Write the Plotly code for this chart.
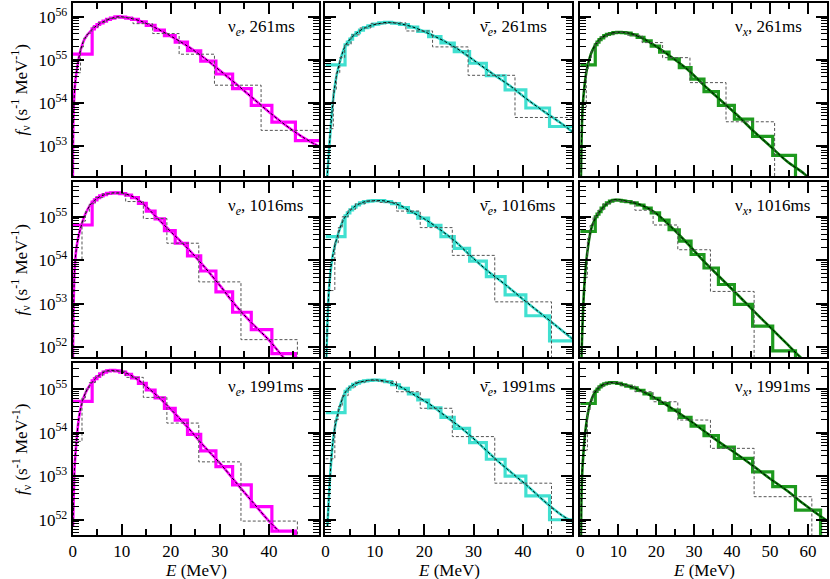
import plotly.graph_objects as go

# Energy bin edges (MeV): fine grid shared by all panels, coarse grids per epoch
FINE_EDGES = [0, 3.97, 4.43, 4.95, 5.5, 6.2, 6.9, 7.7, 8.6, 9.6, 10.8, 12.0, 13.4, 15.0,
              16.8, 18.7, 20.9, 23.4, 26.1, 29.2, 32.6, 36.4, 40.6, 45.4, 50.7, 56.7, 63.3, 70.7]
COARSE_EDGES_261 = [0, 1.6, 2.2, 2.9, 3.9, 5.2, 6.9, 9.2, 12.3, 16.3, 21.7, 28.9, 38.4, 51.2, 68]
COARSE_EDGES_LATE = [0, 1.9, 2.6, 3.4, 4.6, 6.1, 8.1, 10.8, 14.4, 19.2, 25.7, 34.3, 45.8, 61.0, 81]

# log10 of f_nu (s^-1 MeV^-1); None = empty bin
# --- nu_e, 261 ms
CURVE_E_NUE_261 = [0.02, 0.07, 0.2, 0.5, 0.95, 1.6, 2.5, 3.85, 5.5, 7.6, 9.3, 11, 13.6, 16.4,
                   19.7, 23.1, 26.5, 29.9, 33.2, 36.6, 40, 43.4, 46.8, 50]
CURVE_LOGF_NUE_261 = [51.9, 52.98, 53.83, 54.45, 54.84, 55.22, 55.5, 55.69, 55.84, 55.95, 56.0, 55.98,
                      55.91, 55.77, 55.57, 55.34, 55.07, 54.76, 54.45, 54.12, 53.79, 53.48, 53.21, 53.0]
FINE_NUE_261 = [55.13, 55.72, 55.77, 55.82, 55.86, 55.9, 55.94, 55.97, 56.0, 55.99, 55.97, 55.94, 55.88,
                55.8, 55.69, 55.56, 55.41, 55.21, 54.97, 54.67, 54.33, 53.94, 53.55, 53.12, 52.75, 52.35, 51.95]
COARSE_NUE_261 = [54.7, 55.3, 55.5, 55.62, 55.76, 55.87, 55.96, 55.98, 55.84, 55.61, 55.13, 54.41, 53.36, 52.5]

# --- anti nu_e, 261 ms
CURVE_E_ANUE_261 = [0.15, 0.4, 1.08, 1.55, 2.2, 3.1, 4.1, 5.8, 8.1, 10.8, 12.8, 14.85, 17.5, 20.9,
                    24.3, 27.6, 31, 34.3, 37.7, 41.1, 44.4, 47.8, 50]
CURVE_LOGF_ANUE_261 = [51.9, 52.36, 53.44, 54.06, 54.6, 55.03, 55.34, 55.57, 55.75, 55.84, 55.87, 55.84,
                       55.77, 55.61, 55.42, 55.19, 54.91, 54.64, 54.37, 54.06, 53.79, 53.52, 53.33]
FINE_ANUE_261 = [54.88, 55.35, 55.41, 55.48, 55.57, 55.63, 55.69, 55.75, 55.79, 55.83, 55.86, 55.87, 55.85,
                 55.82, 55.76, 55.66, 55.54, 55.39, 55.19, 54.92, 54.63, 54.3, 53.88, 53.45, 53.0, 52.5, 52.0]
COARSE_ANUE_261 = [53.4, 54.3, 54.7, 55.05, 55.35, 55.58, 55.74, 55.84, 55.86, 55.67, 55.3, 54.64, 53.66, 52.8]

# --- nu_x, 261 ms
CURVE_E_NUX_261 = [0.1, 0.2, 0.6, 1.2, 1.9, 3.2, 5, 7.2, 10.3, 13.3, 16.4, 19.5, 23.9, 28.2, 32.6, 37,
                   41.4, 45.8, 50.2, 54.6, 58.9, 61.5]
CURVE_LOGF_NUX_261 = [51.8, 52.36, 53.83, 54.45, 54.84, 55.22, 55.46, 55.59, 55.64, 55.61, 55.5, 55.34,
                      55.07, 54.78, 54.41, 54.06, 53.71, 53.33, 52.98, 52.63, 52.36, 52.15]
FINE_NUX_261 = [54.88, 55.35, 55.41, 55.47, 55.51, 55.56, 55.59, 55.61, 55.63, 55.64, 55.63, 55.62, 55.58,
                55.52, 55.44, 55.32, 55.18, 55.02, 54.82, 54.55, 54.26, 53.94, 53.62, 53.22, 52.78, None, None]
COARSE_NUX_261 = [53.9, 54.8, 55.0, 55.2, 55.4, 55.53, 55.6, 55.64, 55.57, 55.4, 55.05, 54.47, 53.56, None]

# --- nu_e, 1016 ms
CURVE_E_NUE_1016 = [0.03, 0.07, 0.2, 0.4, 0.8, 1.5, 2.5, 3.85, 5.5, 7.6, 8.9, 10.9, 13, 15, 17, 19.7,
                    23.1, 26.5, 29.9, 33.2, 36.6, 40, 42, 43.4]
CURVE_LOGF_NUE_1016 = [51.3, 51.89, 53.0, 53.77, 54.31, 54.69, 55.04, 55.31, 55.46, 55.54, 55.55, 55.52,
                       55.42, 55.23, 55.0, 54.69, 54.31, 53.89, 53.43, 52.96, 52.54, 52.16, 51.89, 51.7]
FINE_NUE_1016 = [54.81, 55.34, 55.39, 55.44, 55.48, 55.51, 55.54, 55.55, 55.55, 55.53, 55.5, 55.44, 55.31,
                 55.13, 54.95, 54.68, 54.39, 54.1, 53.75, 53.27, 52.8, 52.4, 51.85, None, None, None, None]
COARSE_NUE_1016 = [54.0, 54.9, 55.12, 55.3, 55.44, 55.53, 55.54, 55.35, 54.96, 54.39, 53.5, 52.17, None, None]

# --- anti nu_e, 1016 ms
CURVE_E_ANUE_1016 = [0.1, 0.2, 0.74, 1.4, 2.4, 3.8, 5.4, 7.5, 9.8, 12.2, 14.9, 17.5, 19.9, 22.9, 26.3,
                     29.6, 33, 36.4, 39.7, 43.1, 46.4, 50]
CURVE_LOGF_ANUE_1016 = [51.2, 51.83, 53.36, 54.05, 54.54, 54.96, 55.19, 55.33, 55.37, 55.36, 55.27, 55.11,
                        54.96, 54.73, 54.43, 54.08, 53.74, 53.44, 53.13, 52.82, 52.52, 52.19]
FINE_ANUE_1016 = [54.54, 55.02, 55.09, 55.16, 55.22, 55.27, 55.32, 55.35, 55.36, 55.37, 55.37, 55.35, 55.3,
                  55.21, 55.1, 54.97, 54.8, 54.54, 54.27, 53.98, 53.62, 53.2, 52.72, 52.14, 51.6, 51.0, 50.4]
COARSE_ANUE_1016 = [53.3, 54.4, 54.75, 55.0, 55.17, 55.3, 55.36, 55.33, 55.13, 54.75, 54.11, 53.04, None, None]

# --- nu_x, 1016 ms
CURVE_E_NUX_1016 = [0.15, 0.35, 1.05, 1.9, 3.2, 5.4, 8.5, 12.5, 16, 19.5, 23.9, 28.2, 32.6, 37, 41.4,
                    45.8, 50.2, 54.6, 57.2, 60]
CURVE_LOGF_NUX_1016 = [51.0, 51.83, 53.36, 54.2, 54.81, 55.15, 55.38, 55.35, 55.27, 55.11, 54.77, 54.39,
                       53.97, 53.59, 53.21, 52.82, 52.44, 52.06, 51.83, 51.6]
FINE_NUX_1016 = [54.66, 55.0, 55.06, 55.12, 55.2, 55.27, 55.32, 55.36, 55.38, 55.38, 55.36, 55.35, 55.32,
                 55.27, 55.2, 55.09, 54.92, 54.7, 54.44, 54.13, 53.82, 53.44, 52.98, 52.48, 51.91, None, None]
COARSE_NUX_1016 = [53.6, 54.5, 54.8, 55.0, 55.15, 55.3, 55.37, 55.35, 55.15, 54.81, 54.24, 53.28, None, None]

# --- nu_e, 1991 ms
CURVE_E_NUE_1991 = [0.07, 0.2, 0.4, 0.8, 1.3, 2.0, 3.0, 4.3, 6.2, 7.6, 9.05, 11.1, 13.1, 15.1, 17.2,
                    19.9, 23.3, 26.6, 30, 33.4, 36.8, 40, 42]
CURVE_LOGF_NUE_1991 = [51.86, 52.46, 53.22, 53.83, 54.36, 54.73, 55.0, 55.2, 55.38, 55.43, 55.42, 55.36,
                       55.23, 55.05, 54.85, 54.55, 54.14, 53.71, 53.3, 52.84, 52.39, 51.97, 51.74]
FINE_NUE_1991 = [54.72, 55.19, 55.24, 55.29, 55.35, 55.39, 55.42, 55.43, 55.42, 55.39, 55.34, 55.26, 55.13,
                 54.98, 54.8, 54.56, 54.29, 53.96, 53.58, 53.22, 52.8, 52.3, 51.74, None, None, None, None]
COARSE_NUE_1991 = [53.8, 54.8, 55.0, 55.15, 55.3, 55.41, 55.41, 55.27, 54.81, 54.22, 53.33, 51.97, None, None]

# --- anti nu_e, 1991 ms
CURVE_E_ANUE_1991 = [0.4, 0.74, 1.08, 1.55, 2.2, 3.1, 4.1, 5.8, 8.1, 10.1, 12.2, 14.9, 17.5, 20.9, 24.3,
                     27.6, 31, 34.3, 37.7, 41.1, 44.4, 47.8, 50]
CURVE_LOGF_ANUE_1991 = [51.85, 52.61, 53.22, 53.83, 54.29, 54.67, 54.94, 55.11, 55.19, 55.21, 55.18, 55.07,
                        54.9, 54.67, 54.38, 54.1, 53.76, 53.41, 53.08, 52.76, 52.42, 52.11, 51.96]
FINE_ANUE_1991 = [54.46, 54.95, 55.0, 55.05, 55.11, 55.14, 55.17, 55.19, 55.2, 55.21, 55.2, 55.17, 55.1,
                  55.02, 54.89, 54.75, 54.57, 54.35, 54.1, 53.77, 53.39, 53.0, 52.55, 52.0, 51.6, 51.1, 50.6]
COARSE_ANUE_1991 = [53.4, 54.3, 54.6, 54.85, 55.05, 55.16, 55.2, 55.17, 54.94, 54.56, 53.91, 52.84, None, None]

# --- nu_x, 1991 ms
CURVE_E_NUX_1991 = [0.2, 0.44, 0.9, 1.5, 2.4, 3.7, 5.4, 8.1, 10.7, 14.2, 18.6, 23.9, 28.2, 32.6, 37,
                    41.4, 45.8, 50.2, 54.6, 58.9, 63.3, 65]
CURVE_LOGF_NUX_1991 = [51.61, 52.91, 53.6, 54.14, 54.6, 54.9, 55.07, 55.15, 55.12, 55.03, 54.85, 54.57,
                       54.32, 54.04, 53.76, 53.5, 53.22, 52.93, 52.66, 52.36, 52.08, 51.98]
FINE_NUX_1991 = [54.67, 54.95, 55.0, 55.05, 55.09, 55.12, 55.14, 55.15, 55.15, 55.13, 55.1, 55.07, 55.03,
                 54.97, 54.89, 54.79, 54.67, 54.52, 54.35, 54.15, 53.93, 53.67, 53.41, 53.1, 52.76, 52.22, None]
COARSE_NUX_1991 = [53.6, 54.5, 54.75, 54.95, 55.05, 55.13, 55.15, 55.08, 54.94, 54.71, 54.29, 53.64, 52.53, None]

NU_E = "ν<sub><i>e</i></sub>"
NU_E_BAR = "ν\u0304<sub><i>e</i></sub>"
NU_X = "ν<sub><i>x</i></sub>"

PANELS = [
    (CURVE_E_NUE_261, CURVE_LOGF_NUE_261, FINE_NUE_261, COARSE_EDGES_261, COARSE_NUE_261, NU_E, "261ms"),
    (CURVE_E_ANUE_261, CURVE_LOGF_ANUE_261, FINE_ANUE_261, COARSE_EDGES_261, COARSE_ANUE_261, NU_E_BAR, "261ms"),
    (CURVE_E_NUX_261, CURVE_LOGF_NUX_261, FINE_NUX_261, COARSE_EDGES_261, COARSE_NUX_261, NU_X, "261ms"),
    (CURVE_E_NUE_1016, CURVE_LOGF_NUE_1016, FINE_NUE_1016, COARSE_EDGES_LATE, COARSE_NUE_1016, NU_E, "1016ms"),
    (CURVE_E_ANUE_1016, CURVE_LOGF_ANUE_1016, FINE_ANUE_1016, COARSE_EDGES_LATE, COARSE_ANUE_1016, NU_E_BAR, "1016ms"),
    (CURVE_E_NUX_1016, CURVE_LOGF_NUX_1016, FINE_NUX_1016, COARSE_EDGES_LATE, COARSE_NUX_1016, NU_X, "1016ms"),
    (CURVE_E_NUE_1991, CURVE_LOGF_NUE_1991, FINE_NUE_1991, COARSE_EDGES_LATE, COARSE_NUE_1991, NU_E, "1991ms"),
    (CURVE_E_ANUE_1991, CURVE_LOGF_ANUE_1991, FINE_ANUE_1991, COARSE_EDGES_LATE, COARSE_ANUE_1991, NU_E_BAR, "1991ms"),
    (CURVE_E_NUX_1991, CURVE_LOGF_NUX_1991, FINE_NUX_1991, COARSE_EDGES_LATE, COARSE_NUX_1991, NU_X, "1991ms"),
]

X_MAX = [50.3, 50.0, 65.0]
X_TICKS = [[0, 10, 20, 30, 40], [0, 10, 20, 30, 40], [0, 10, 20, 30, 40, 50, 60]]
X_MINOR = [[5, 15, 25, 35, 45], [5, 15, 25, 35, 45], [5, 15, 25, 35, 45, 55]]
Y_RANGES = [(52.3, 56.32), (51.77, 55.8), (51.65, 55.6)]
Y_DECADES = [[53, 54, 55, 56], [52, 53, 54, 55], [52, 53, 54, 55]]

HIST_COLORS = ["#ff00ff", "#40e0d0", "#1e9a1e"]
CURVE_COLORS = ["#ff00ff", "#30d8c8", "#0a7a0a"]

W, H = 830, 579
COL_PX = [(69, 317), (323, 571), (579, 827)]
ROW_PX = [(3, 176), (182, 357), (363, 535)]
FONT = "Liberation Serif"


def lin(vals):
    """log10 -> linear; empty bins fall far below the axis."""
    return [10.0 ** v if v is not None else 1e40 for v in vals]


def step_y(vals):
    y = lin(vals)
    return y + [y[-1]]


fig = go.Figure()
layout = dict(
    width=W, height=H,
    margin=dict(l=0, r=0, t=0, b=0),
    paper_bgcolor="white", plot_bgcolor="white",
    showlegend=False,
    font=dict(family=FONT, size=17, color="black"),
)
annotations = []

for k, (ce, cl, fine, cedges, coarse, nu, tlabel) in enumerate(PANELS):
    r, c = divmod(k, 3)
    xname = "x" if k == 0 else f"x{k + 1}"
    yname = "y" if k == 0 else f"y{k + 1}"
    common = dict(xaxis=xname, yaxis=yname, hoverinfo="skip", showlegend=False)

    fig.add_trace(go.Scatter(x=FINE_EDGES, y=step_y(fine), mode="lines",
                             line=dict(shape="hv", color=HIST_COLORS[c], width=3.2), **common))
    fig.add_trace(go.Scatter(x=ce, y=lin(cl), mode="lines",
                             line=dict(shape="spline", smoothing=1.0, color=CURVE_COLORS[c], width=2.6),
                             **common))
    fig.add_trace(go.Scatter(x=ce, y=lin(cl), mode="lines",
                             line=dict(shape="spline", smoothing=1.0, color="black", width=1, dash="3px,2px"),
                             **common))
    fig.add_trace(go.Scatter(x=cedges, y=step_y(coarse), mode="lines",
                             line=dict(shape="hv", color="#555555", width=1, dash="3px,2px"), **common))

    x0, x1 = COL_PX[c]
    y0, y1 = ROW_PX[r]
    layout["xaxis" if k == 0 else f"xaxis{k + 1}"] = dict(
        domain=[x0 / W, x1 / W], anchor=yname, range=[0, X_MAX[c]],
        showline=True, linecolor="black", linewidth=2, mirror="ticks",
        ticks="inside", ticklen=11, tickwidth=1.5, tickcolor="black",
        tickmode="array", tickvals=X_TICKS[c], ticktext=[str(t) for t in X_TICKS[c]],
        minor=dict(ticks="inside", ticklen=6, tickwidth=1.5, tickcolor="black",
                   tickmode="array", tickvals=X_MINOR[c]),
        showgrid=False, zeroline=False,
        showticklabels=(r == 2), tickfont=dict(family=FONT, size=17),
    )
    lo, hi = Y_RANGES[r]
    layout["yaxis" if k == 0 else f"yaxis{k + 1}"] = dict(
        domain=[1 - y1 / H, 1 - y0 / H], anchor=xname, type="log", range=[lo, hi],
        showline=True, linecolor="black", linewidth=2, mirror="ticks",
        ticks="inside", ticklen=11, tickwidth=1.5, tickcolor="black",
        tickmode="array", tickvals=[10.0 ** d for d in Y_DECADES[r]],
        ticktext=[f"10<sup>{d}</sup>" for d in Y_DECADES[r]],
        minor=dict(ticks="inside", ticklen=6, tickwidth=1, tickcolor="black", dtick="D1"),
        showgrid=False, zeroline=False,
        showticklabels=(c == 0), tickfont=dict(family=FONT, size=17),
    )

    annotations.append(dict(
        xref="paper", yref="paper",
        x=(x0 + 0.62 * (x1 - x0)) / W, y=1 - (y0 + 25) / H,
        xanchor="left", yanchor="middle", showarrow=False,
        text=f"{nu}, {tlabel}", font=dict(family=FONT, size=17),
    ))

for r, (y0, y1) in enumerate(ROW_PX):
    annotations.append(dict(
        xref="paper", yref="paper", x=17 / W, y=1 - (y0 + y1) / 2 / H,
        xanchor="center", yanchor="middle", showarrow=False, textangle=-90,
        text="<i>f</i><sub>ν</sub> (s<sup>-1</sup> MeV<sup>-1</sup>)", font=dict(family=FONT, size=17),
    ))
for c, (x0, x1) in enumerate(COL_PX):
    annotations.append(dict(
        xref="paper", yref="paper", x=(x0 + x1) / 2 / W, y=1 - 570 / H,
        xanchor="center", yanchor="middle", showarrow=False,
        text="<i>E</i> (MeV)", font=dict(family=FONT, size=17),
    ))

layout["annotations"] = annotations
fig.update_layout(**layout)
fig.write_html("out.html", config={"displayModeBar": False},
               post_script="document.body.style.margin = '0';")
